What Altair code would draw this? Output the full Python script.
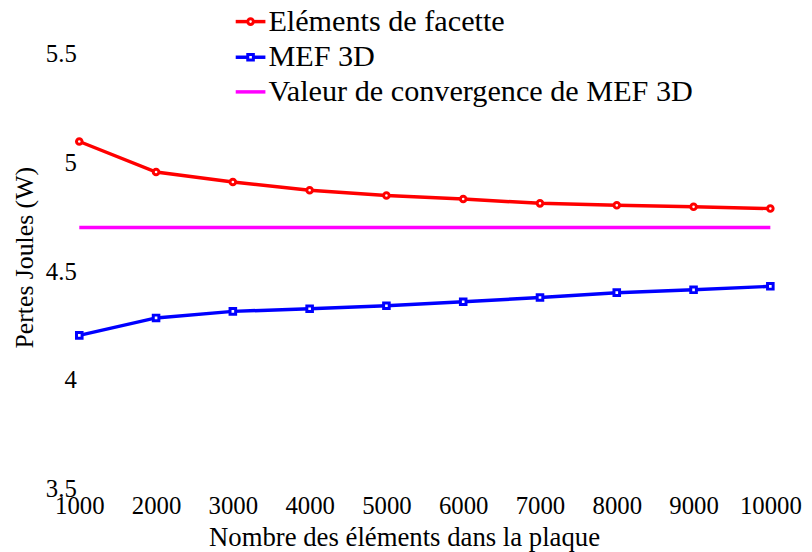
import altair as alt
import pandas as pd

# ---- data ----
elements = [1000, 2000, 3000, 4000, 5000, 6000, 7000, 8000, 9000, 10000]
facette = [5.095, 4.955, 4.909, 4.871, 4.847, 4.831, 4.811, 4.802, 4.795, 4.787]
mef3d = [4.205, 4.285, 4.315, 4.327, 4.341, 4.359, 4.379, 4.401, 4.414, 4.430]
convergence = 4.70

series_names = ["Eléments de facette", "MEF 3D", "Valeur de convergence de MEF 3D"]
series_colors = ["#FF0000", "#0000FF", "#FF00FF"]
y_ticks = [3.5, 4, 4.5, 5, 5.5]
x_ticks = elements

FONT = "Liberation Serif, Times New Roman, serif"

rows = []
for x, v in zip(elements, facette):
    rows.append({"n": x, "p": v, "s": series_names[0]})
for x, v in zip(elements, mef3d):
    rows.append({"n": x, "p": v, "s": series_names[1]})
df = pd.DataFrame(rows)

conv_df = pd.DataFrame({"n": [elements[0]], "n2": [elements[-1]], "p": [convergence]})

color_scale = alt.Scale(domain=series_names, range=series_colors)
shape_scale = alt.Scale(domain=series_names[:2], range=["circle", "square"])

x_enc = alt.X(
    "n:Q",
    scale=alt.Scale(domain=[1000, 10000], nice=False, zero=False),
    axis=alt.Axis(
        values=x_ticks, format="d", title="Nombre des éléments dans la plaque",
        grid=False, domain=False, ticks=False, labelPadding=25,
        labelBaseline="alphabetic", labelFontSize=25, labelFont=FONT,
        labelColor="black", titleFont=FONT, titleFontSize=27,
        titleFontWeight="normal", titleColor="black",
        titleX=328, titleY=57, titleBaseline="alphabetic", titleAnchor="middle",
        labelFlush=False, labelOverlap=False,
    ),
)
y_scale = alt.Scale(domain=[3.5, 5.5], nice=False, zero=False)
y_enc = alt.Y(
    "p:Q",
    scale=y_scale,
    axis=alt.Axis(
        values=y_ticks, format="~g", title="Pertes Joules (W)",
        grid=False, domain=False, ticks=False, labelPadding=3,
        labelFontSize=25, labelFont=FONT, labelColor="black",
        titleFont=FONT, titleFontSize=26, titleFontWeight="normal",
        titleColor="black", titleX=-47, titleY=206, titleAngle=270,
        titleBaseline="alphabetic", titleAnchor="middle",
        labelFlush=False, labelOverlap=False,
    ),
)

base = alt.Chart(df)

lines = base.mark_line(strokeWidth=3.5).encode(
    x=x_enc, y=y_enc,
    color=alt.Color("s:N", scale=color_scale, legend=None),
    detail="s:N",
)
points = base.mark_point(filled=False, fill="white", strokeWidth=3, size=32, opacity=1).encode(
    x="n:Q", y="p:Q",
    color=alt.Color("s:N", scale=color_scale, legend=None),
    shape=alt.Shape("s:N", scale=shape_scale, legend=None),
)
conv_rule = alt.Chart(conv_df).mark_rule(strokeWidth=3.5, color=series_colors[2]).encode(
    x="n:Q", x2="n2:Q", y="p:Q"
)

# ---- manual legend (line + marker + text) ----
one = pd.DataFrame({"a": [0]})
leg_rows_y = [-32, 4, 39]
leg_shapes = ["circle", "square", None]
legend_layers = []
for name, col, yy, shp in zip(series_names, series_colors, leg_rows_y, leg_shapes):
    legend_layers.append(
        alt.Chart(one).mark_rule(strokeWidth=3.5, color=col).encode(
            x=alt.value(158), x2=alt.value(188), y=alt.value(yy)
        )
    )
    if shp:
        legend_layers.append(
            alt.Chart(one).mark_point(shape=shp, filled=False, fill="white", color=col,
                                      strokeWidth=3, size=32, opacity=1).encode(
                x=alt.value(173), y=alt.value(yy)
            )
        )
    legend_layers.append(
        alt.Chart(one).mark_text(align="left", baseline="middle", font=FONT,
                                 fontSize=30.5, color="black", dy=0).encode(
            x=alt.value(191), y=alt.value(yy), text=alt.value(name)
        )
    )

chart = alt.layer(conv_rule, lines, points, *legend_layers).properties(
    width=698, height=440,
    autosize=alt.AutoSizeParams(type="none"),
    padding={"left": 72, "top": 43, "right": 34, "bottom": 61},
    background="white",
).configure_view(stroke=None)

chart.save("out.html", embed_options={"renderer": "svg", "actions": False})
